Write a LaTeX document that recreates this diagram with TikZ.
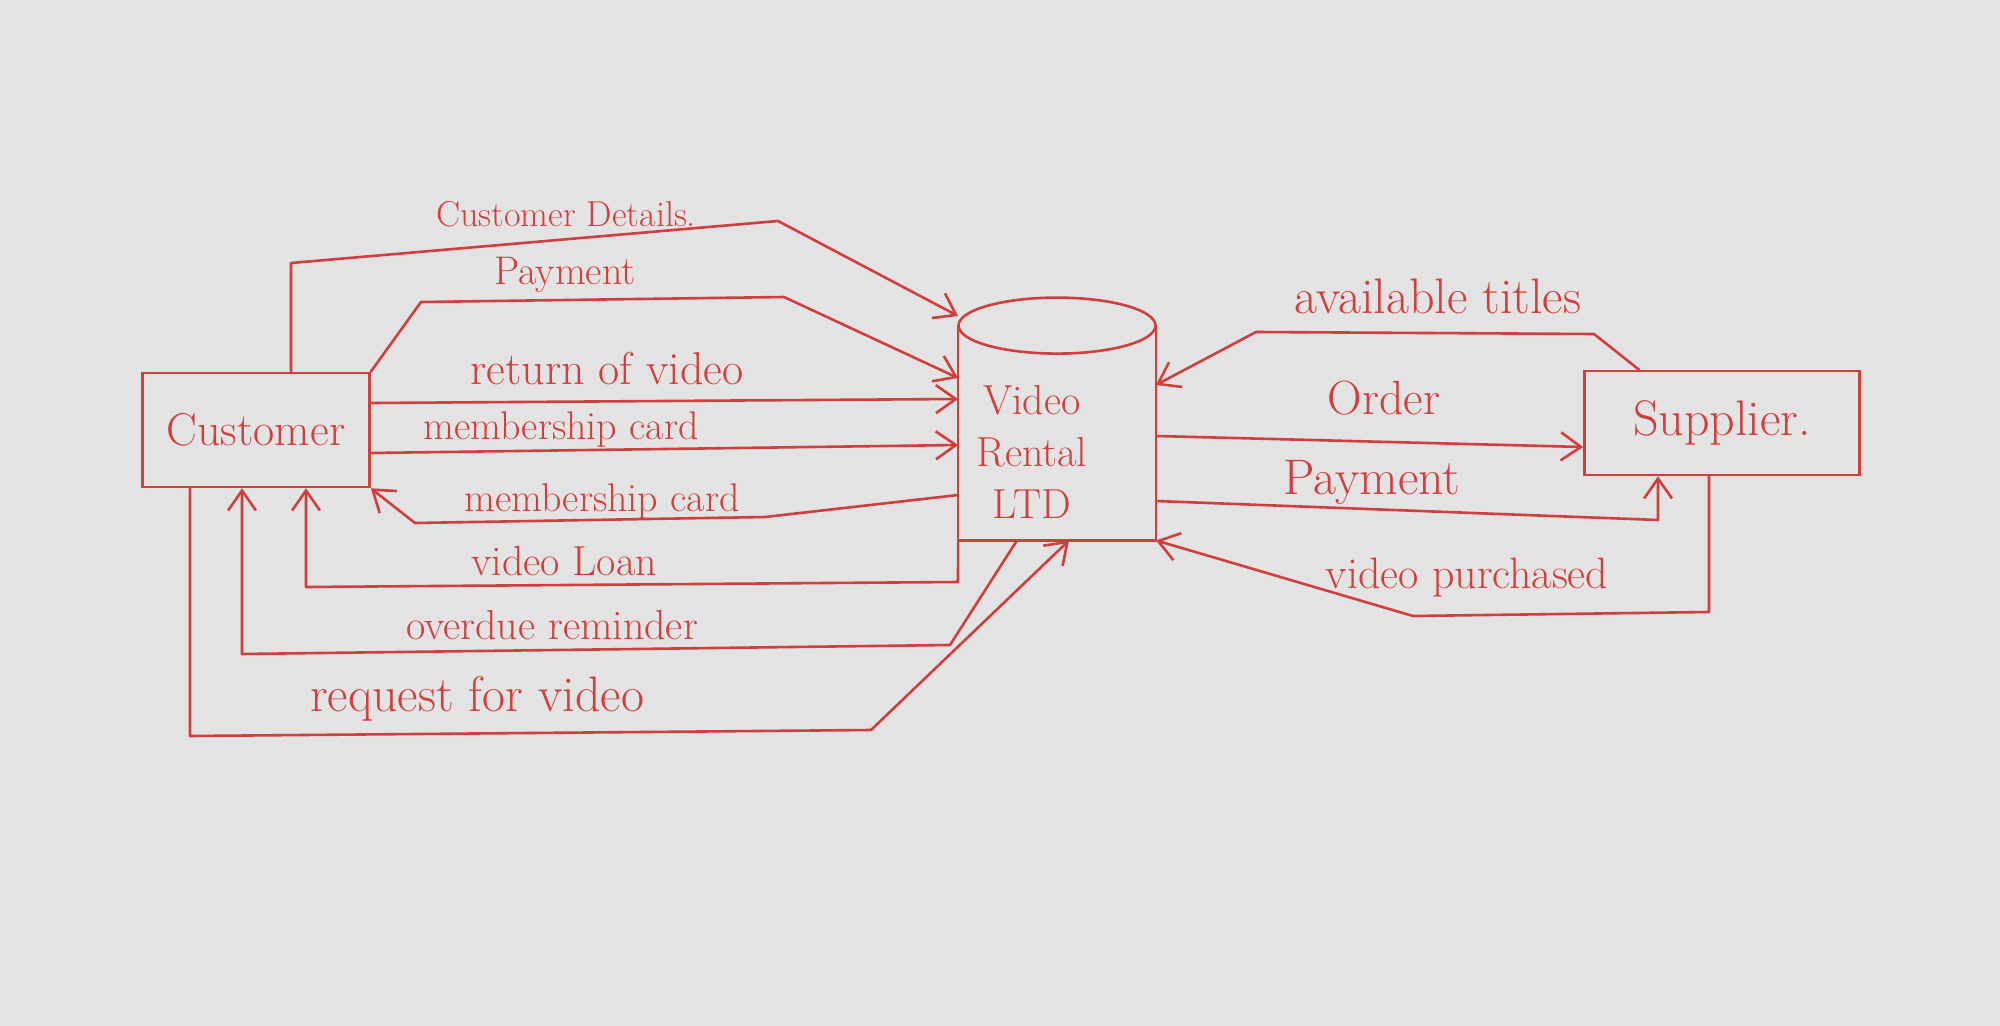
\documentclass[tikz,border=0pt]{standalone}
\usepackage{fontspec}
\usetikzlibrary{arrows.meta,calc}
\definecolor{paper}{RGB}{227,227,227}
\definecolor{ink}{RGB}{208,62,62}
\begin{document}
\begin{tikzpicture}[x=0.5pt,y=-0.5pt,
  plain/.style={draw=ink,line width=1.3pt,line join=round,line cap=round},
  flow/.style={plain,-{Straight Barb[length=10pt,width=14pt,line width=1.3pt]}},
  box/.style={draw=ink,line width=1.3pt,text=ink,inner sep=0pt},
  lbl/.style={text=ink,inner sep=0pt},
  fs/.style={font=\fontsize{#1}{#1}\selectfont}]
\fill[paper] (0,0) rectangle (2000,1026);
\useasboundingbox (0,0) rectangle (2000,1026);

% entities
\node[box,minimum width=113.5pt,minimum height=57pt,fs=23] (cust) at (256,430) {Customer};
\node[box,minimum width=137.5pt,minimum height=52pt,fs=25] (sup) at (1722,423) {Supplier.};
\node[inner sep=0pt,minimum width=98.5pt,minimum height=121pt] (vr) at (1057,419) {};
\node[lbl,align=center,font=\fontsize{21}{26}\selectfont] (vrtxt) at (1032,452) {Video\\Rental\\LTD};
\coordinate (vrtop) at ($(vr.north)+(0,28)$);
\draw[plain] (vrtop) ellipse [x radius=49.25pt, y radius=14pt];
\draw[plain] (vr.west |- vrtop) -- (vr.south west) -- (vr.south east) -- (vr.east |- vrtop);

% Customer Details
\coordinate (cd1) at (291,263); \coordinate (cd2) at (778,221); \coordinate (cd3) at (0,316);
\draw[flow] (cust.north -| cd1) -- (cd1) -- (cd2) -- (vr.west |- cd3);
\node[lbl,fs=18] (lcd) at (566,214) {Customer Details.};

% Payment (customer)
\coordinate (pa1) at (421,302); \coordinate (pa2) at (784,297); \coordinate (pa3) at (0,378);
\draw[flow] (cust.north east) -- (pa1) -- (pa2) -- (vr.west |- pa3);
\node[lbl,fs=20] (lpa) at (565,275) {Payment};

% return of video
\coordinate (rv1) at (0,403); \coordinate (rv2) at (0,399);
\draw[flow] (cust.east |- rv1) -- (vr.west |- rv2);
\node[lbl,fs=23] (lrv) at (607,369) {return of video};

% membership card (in)
\coordinate (m1a) at (0,453); \coordinate (m1b) at (0,445);
\draw[flow] (cust.east |- m1a) -- (vr.west |- m1b);
\node[lbl,fs=20] (lm1) at (561,430) {membership card};

% membership card (out)
\coordinate (m2a) at (0,495); \coordinate (m2b) at (765,517); \coordinate (m2c) at (415,523);
\draw[flow] (vr.west |- m2a) -- (m2b) -- (m2c) -- (cust.south east);
\node[lbl,fs=20] (lm2) at (602,502) {membership card};

% video Loan
\coordinate (vl1) at (958,582); \coordinate (vl2) at (306,587);
\draw[flow] (vr.south west) -- (vl1) -- (vl2) -- (cust.south -| vl2);
\node[lbl,fs=21] (lvl) at (564,561) {video Loan};

% overdue reminder
\coordinate (od0) at (1017,0); \coordinate (od1) at (950,645); \coordinate (od2) at (242,654);
\draw[flow] (vr.south -| od0) -- (od1) -- (od2) -- (cust.south -| od2);
\node[lbl,fs=21] (lod) at (552,625) {overdue reminder};

% request for video
\coordinate (rq1) at (190,736); \coordinate (rq2) at (871,730); \coordinate (rq3) at (1069,0);
\draw[flow] (cust.south -| rq1) -- (rq1) -- (rq2) -- (vr.south -| rq3);
\node[lbl,fs=25] (lrq) at (477,699) {request for video};

% available titles
\coordinate (at0) at (1639,0); \coordinate (at1) at (1594,334); \coordinate (at2) at (1256,332); \coordinate (at3) at (0,385);
\draw[flow] (sup.north -| at0) -- (at1) -- (at2) -- (vr.east |- at3);
\node[lbl,fs=25] (lat) at (1438,296) {available titles};

% Order
\coordinate (or1) at (0,436); \coordinate (or2) at (0,447);
\draw[flow] (vr.east |- or1) -- (sup.west |- or2);
\node[lbl,fs=24] (lor) at (1384,398) {Order};

% Payment (supplier)
\coordinate (pr1) at (0,501); \coordinate (pr2) at (1658,520);
\draw[flow] (vr.east |- pr1) -- (pr2) -- (sup.south -| pr2);
\node[lbl,fs=25] (lpr) at (1372,482) {Payment};

% video purchased
\coordinate (vp1) at (1709,612); \coordinate (vp2) at (1413,616);
\draw[flow] (sup.south -| vp1) -- (vp1) -- (vp2) -- (vr.south east);
\node[lbl,fs=22] (lvp) at (1467,578) {video purchased};
\end{tikzpicture}
\end{document}
